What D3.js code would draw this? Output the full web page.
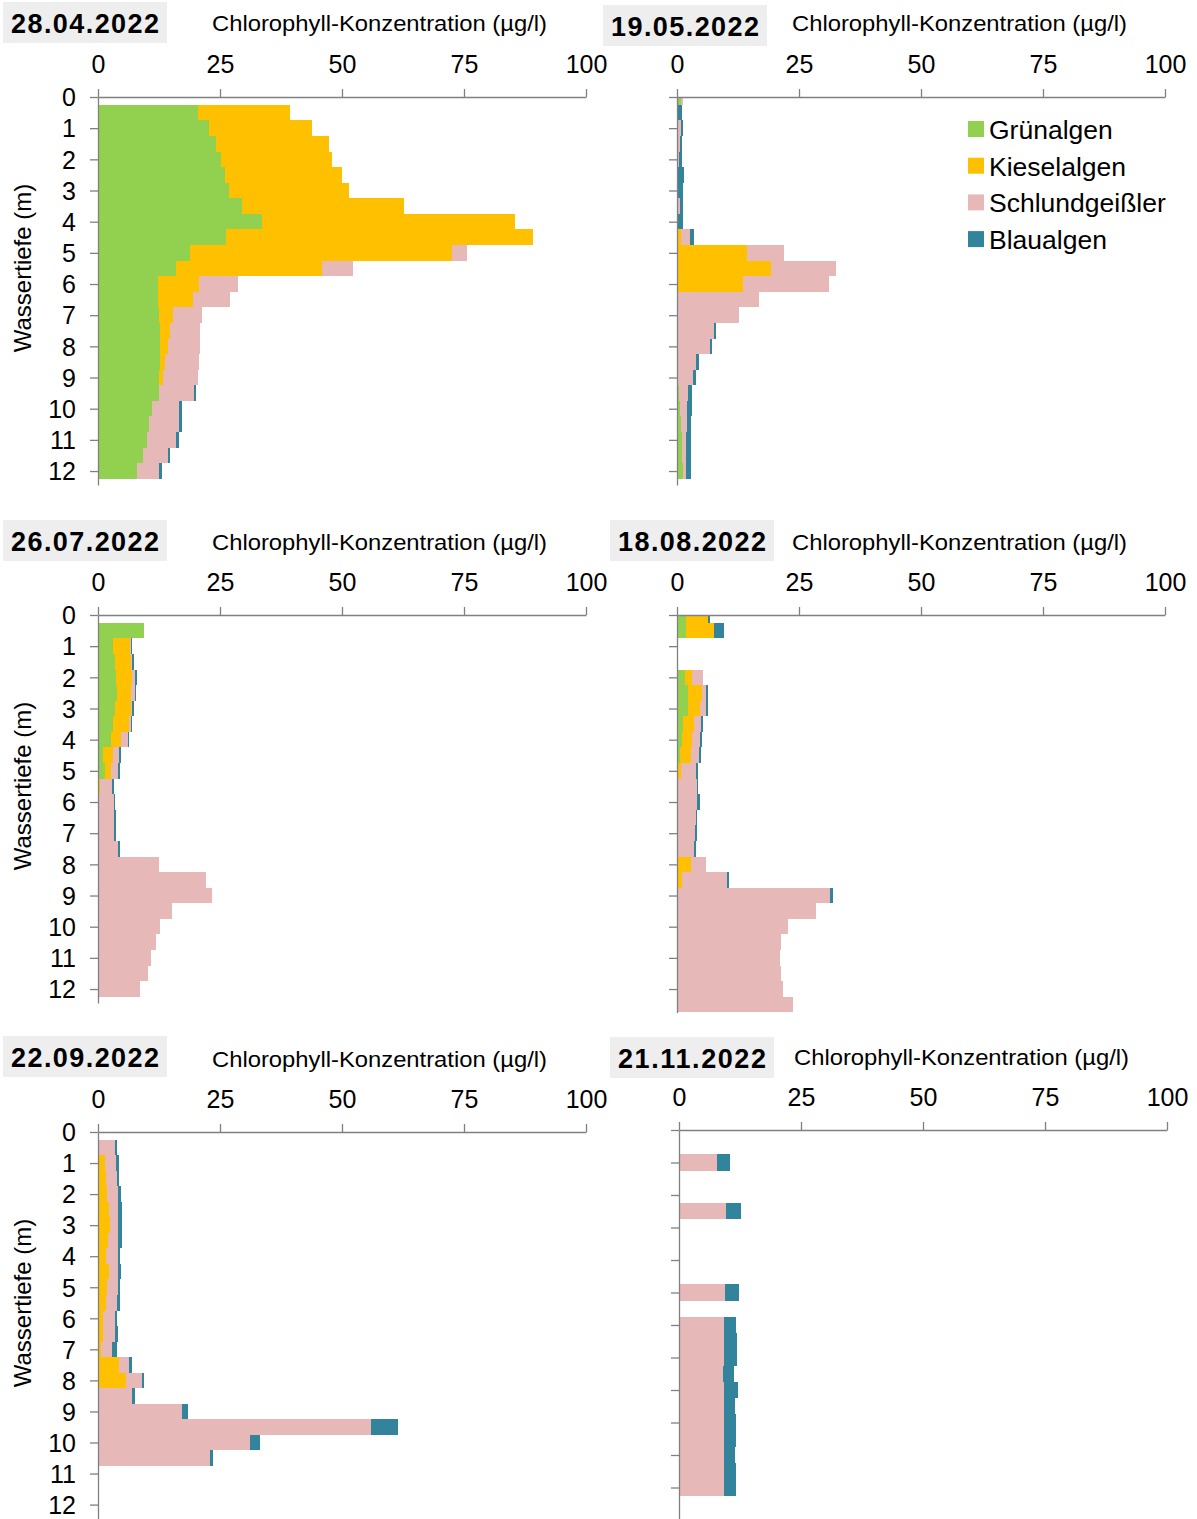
<!DOCTYPE html>
<html>
<head>
<meta charset="utf-8">
<script src="https://cdn.jsdelivr.net/npm/d3@7"></script>
<style>
  body { margin: 0; background: #fff; }
  text { font-family: "Liberation Sans", Arial, sans-serif; }
</style>
</head>
<body>
<div id="chart"></div>
<script>
// Algengruppen und Farben
const series = ["Grünalgen", "Kieselalgen", "Schlundgeißler", "Blaualgen"];
const colors = ["#92D050", "#FFC000", "#E6B9B8", "#31849B"];
const xTicks = [0, 25, 50, 75, 100];
const depthTicks = d3.range(0, 13);

// 28.04.2022
const depthApr = d3.range(0.5, 12.01, 0.5);
const gruenApr = [20.4, 22.8, 24.2, 25.3, 26.0, 26.9, 29.6, 33.7, 26.2, 18.9, 16.0, 12.2, 12.2, 12.6, 12.8, 12.8, 12.7, 12.6, 12.4, 11.0, 10.5, 10.1, 9.3, 7.9];
const kieselApr = [18.9, 21.0, 23.1, 22.6, 23.9, 24.6, 33.2, 51.8, 62.9, 53.7, 30.0, 8.4, 7.3, 2.7, 2.0, 1.6, 1.0, 0.7, 0.2, 0, 0, 0, 0, 0];
const schlundApr = [0, 0, 0, 0, 0, 0, 0, 0, 0, 3.1, 6.3, 8.0, 7.5, 6.1, 6.1, 6.4, 6.9, 7.1, 7.1, 5.7, 6.2, 5.9, 5.1, 4.7];
const blauApr = [0, 0, 0, 0, 0, 0, 0, 0, 0, 0, 0, 0, 0, 0, 0, 0, 0, 0, 0.3, 0.5, 0.5, 0.5, 0.4, 0.5];

// 19.05.2022
const depthMay = d3.range(0, 12.01, 0.5);
const gruenMay = [0.8, 0, 0, 0, 0, 0, 0, 0, 0, 0, 0, 0, 0, 0, 0, 0, 0, 0, 0.3, 0.5, 0.7, 0.8, 1.0, 1.1, 1.3];
const kieselMay = [0, 0, 0, 0, 0, 0, 0, 0, 0, 0.8, 14.4, 19.2, 13.6, 0, 0, 0, 0, 0, 0, 0, 0, 0, 0, 0, 0];
const schlundMay = [0.5, 0, 0.8, 0.7, 0.5, 0.2, 0, 0.6, 0, 1.8, 7.6, 13.4, 17.5, 16.8, 12.7, 7.6, 6.7, 3.9, 2.9, 1.8, 1.4, 1.2, 0.9, 0.7, 0.5];
const blauMay = [0, 1.0, 0.5, 0.4, 0.6, 1.2, 1.2, 0.7, 1.2, 0.8, 0, 0, 0, 0, 0, 0.4, 0.5, 0.6, 0.7, 0.8, 0.9, 0.9, 0.9, 1.1, 1.0];

// 26.07.2022
const depthJul = d3.range(0.5, 12.01, 0.5);
const gruenJul = [9.4, 3.1, 3.4, 3.7, 3.9, 3.4, 3.1, 2.7, 1.0, 1.4, 0, 0, 0, 0, 0, 0, 0, 0, 0, 0, 0, 0, 0, 0];
const kieselJul = [0, 3.4, 3.4, 3.2, 2.9, 3.3, 3.3, 2.0, 2.0, 1.2, 0.5, 0.3, 0, 0, 0, 0, 0, 0, 0, 0, 0, 0, 0, 0];
const schlundJul = [0, 0.2, 0.2, 0.7, 0.7, 0.35, 0.3, 1.4, 1.4, 1.6, 2.4, 2.9, 3.3, 3.3, 4.1, 12.4, 22.2, 23.3, 15.1, 12.7, 11.8, 10.9, 10.2, 8.6];
const blauJul = [0, 0.3, 0.35, 0.35, 0.35, 0.35, 0.35, 0.35, 0.35, 0.35, 0.45, 0.3, 0.3, 0.3, 0.4, 0, 0, 0, 0, 0, 0, 0, 0, 0];

// 18.08.2022
const depthAug = [0, 0.5, 2, 2.5, 3, 3.5, 4, 4.5, 5, 5.5, 6, 6.5, 7, 7.5, 8, 8.5, 9, 9.5, 10, 10.5, 11, 11.5, 12, 12.5];
const gruenAug = [1.8, 1.8, 1.6, 2.2, 2.3, 1.3, 1.0, 0.6, 0, 0, 0, 0, 0, 0, 0, 0, 0, 0, 0, 0, 0, 0, 0, 0];
const kieselAug = [4.5, 5.7, 1.4, 3.0, 2.4, 2.2, 2.0, 2.2, 0.8, 0, 0, 0, 0, 0, 2.9, 1.1, 0, 0, 0, 0, 0, 0, 0, 0];
const schlundAug = [0, 0, 2.4, 0.7, 1.2, 1.4, 1.7, 1.7, 3.1, 4.1, 4.2, 3.8, 3.7, 3.5, 3.0, 9.1, 31.4, 28.4, 22.8, 21.3, 21.1, 21.3, 21.8, 23.8];
const blauAug = [0.5, 2.2, 0, 0.4, 0.35, 0.5, 0.4, 0.5, 0.35, 0.3, 0.5, 0.35, 0.3, 0.35, 0, 0.5, 0.6, 0, 0, 0, 0, 0, 0, 0];

// 22.09.2022
const depthSep = d3.range(0.5, 10.51, 0.5);
const gruenSep = [0, 0, 0, 0, 0, 0, 0, 0, 0, 0, 0, 0, 0, 0, 0, 0, 0, 0, 0, 0, 0];
const kieselSep = [0.3, 1.4, 1.7, 1.9, 2.2, 2.4, 2.0, 1.7, 2.2, 1.8, 1.7, 1.0, 1.0, 0.7, 4.4, 5.8, 0, 0, 0, 0, 0];
const schlundSep = [3.1, 2.2, 2.2, 2.2, 2.0, 1.8, 2.2, 2.3, 1.9, 2.2, 2.2, 2.4, 2.5, 2.2, 2.0, 3.2, 7.0, 17.2, 55.9, 31.2, 22.9];
const blauSep = [0.5, 0.8, 0.5, 0.7, 0.7, 0.7, 0.7, 0.6, 0.6, 0.5, 0.6, 0.5, 0.5, 0.9, 0.5, 0.5, 0.5, 1.2, 5.5, 2.0, 0.7];

// 21.11.2022
const depthNov = [1, 2.5, 5, 6, 6.5, 7, 7.5, 8, 8.5, 9, 9.5, 10, 10.5, 11];
const gruenNov = [0, 0, 0, 0, 0, 0, 0, 0, 0, 0, 0, 0, 0, 0];
const kieselNov = [0, 0, 0, 0, 0, 0, 0, 0, 0, 0, 0, 0, 0, 0];
const schlundNov = [7.8, 9.6, 9.4, 9.3, 9.3, 9.3, 9.1, 9.3, 9.2, 9.3, 9.3, 9.3, 9.3, 9.3];
const blauNov = [2.7, 3.1, 2.9, 2.3, 2.6, 2.6, 2.2, 2.7, 2.3, 2.4, 2.3, 2.2, 2.4, 2.4];

const panels = [
  { date: "28.04.2022", depth: depthApr, vals: [gruenApr, kieselApr, schlundApr, blauApr],
    x0: 98, top: 97, ppm: 31.17, yMax: 12.45, labels: true, box: [3, 2], axTitle: [212, 31], legend: false },
  { date: "19.05.2022", depth: depthMay, vals: [gruenMay, kieselMay, schlundMay, blauMay],
    x0: 677, top: 97, ppm: 31.17, yMax: 12.45, labels: false, box: [603, 5], axTitle: [792, 31], legend: true },
  { date: "26.07.2022", depth: depthJul, vals: [gruenJul, kieselJul, schlundJul, blauJul],
    x0: 98, top: 615, ppm: 31.17, yMax: 12.45, labels: true, box: [3, 520], axTitle: [212, 550], legend: false },
  { date: "18.08.2022", depth: depthAug, vals: [gruenAug, kieselAug, schlundAug, blauAug],
    x0: 677, top: 615, ppm: 31.17, yMax: 12.75, labels: false, box: [610, 520], axTitle: [792, 550], legend: false },
  { date: "22.09.2022", depth: depthSep, vals: [gruenSep, kieselSep, schlundSep, blauSep],
    x0: 98, top: 1132, ppm: 31.05, yMax: 12.6, labels: true, box: [3, 1036], axTitle: [212, 1067], legend: false },
  { date: "21.11.2022", depth: depthNov, vals: [gruenNov, kieselNov, schlundNov, blauNov],
    x0: 679, top: 1130, ppm: 32.5, yMax: 12.2, labels: false, box: [610, 1037], axTitle: [794, 1065], legend: false }
];

const width = 1197;
const height = 1519;

const svg = d3.select("#chart").append("svg")
    .attr("width", width)
    .attr("height", height);

const axisColor = "#808080";

panels.forEach(function(p) {
    const g = svg.append("g");

    const x = d3.scaleLinear().domain([0, 100]).range([p.x0, p.x0 + 488]);
    const y = d3.scaleLinear().domain([0, p.yMax]).range([p.top, p.top + p.yMax * p.ppm]);

    // Datumsfeld
    g.append("rect")
        .attr("x", p.box[0]).attr("y", p.box[1])
        .attr("width", 164).attr("height", 41)
        .attr("fill", "#eeeeee");
    g.append("text")
        .attr("x", p.box[0] + 82).attr("y", p.box[1] + 31)
        .attr("text-anchor", "middle")
        .attr("font-size", 27).attr("font-weight", "bold")
        .attr("textLength", 148).attr("lengthAdjust", "spacing")
        .text(p.date);

    g.append("text")
        .attr("x", p.axTitle[0]).attr("y", p.axTitle[1])
        .attr("font-size", 22)
        .attr("textLength", 335).attr("lengthAdjust", "spacingAndGlyphs")
        .text("Chlorophyll-Konzentration (µg/l)");

    // gestapelte Balken
    const rows = p.depth.map(function(d, i) {
        const r = { depth: d };
        series.forEach(function(s, k) { r[s] = p.vals[k][i]; });
        return r;
    });
    const stacked = d3.stack().keys(series)(rows);

    g.selectAll("g.layer")
        .data(stacked)
        .enter().append("g")
        .attr("class", "layer")
        .attr("fill", function(d, i) { return colors[i]; })
        .selectAll("rect")
        .data(function(d) { return d.filter(function(v) { return v[1] - v[0] > 0; }); })
        .enter().append("rect")
        .attr("shape-rendering", "crispEdges")
        .attr("x", function(d) { return x(d[0]); })
        .attr("width", function(d) { return x(d[1]) - x(d[0]); })
        .attr("y", function(d) { return y(Math.max(0, d.data.depth - 0.25)); })
        .attr("height", function(d) {
            return y(d.data.depth + 0.25) - y(Math.max(0, d.data.depth - 0.25));
        });

    // Achsen
    const xAxis = g.append("g")
        .attr("transform", "translate(0," + p.top + ")")
        .call(d3.axisTop(x).tickValues(xTicks).tickSize(8).tickSizeOuter(0).tickPadding(16));

    const yAxis = g.append("g")
        .attr("transform", "translate(" + p.x0 + ",0)")
        .call(d3.axisLeft(y).tickValues(depthTicks).tickSize(8).tickSizeOuter(0).tickPadding(14)
            .tickFormat(p.labels ? d3.format("d") : ""));

    [xAxis, yAxis].forEach(function(a) {
        a.select(".domain").attr("stroke", axisColor).attr("stroke-width", 1.3);
        a.selectAll(".tick line").attr("stroke", axisColor).attr("stroke-width", 1.3);
        a.selectAll(".tick text")
            .attr("font-size", 25)
            .attr("font-family", "'Liberation Sans', Arial, sans-serif")
            .attr("fill", "#000");
    });
    yAxis.selectAll(".tick text").attr("dy", "0.35em");

    if (p.labels) {
        g.append("text")
            .attr("transform", "translate(31," + (p.top + 171) + ") rotate(-90)")
            .attr("text-anchor", "middle")
            .attr("font-size", 24)
            .text("Wassertiefe (m)");
    }

    if (p.legend) {
        const leg = g.append("g").attr("transform", "translate(968,121)");
        series.forEach(function(s, i) {
            leg.append("rect")
                .attr("x", 0).attr("y", i * 36.7)
                .attr("width", 16).attr("height", 16)
                .attr("fill", colors[i]);
            leg.append("text")
                .attr("x", 21).attr("y", i * 36.7 + 18)
                .attr("font-size", 26.5)
                .text(s);
        });
    }
});
</script>
</body>
</html>
